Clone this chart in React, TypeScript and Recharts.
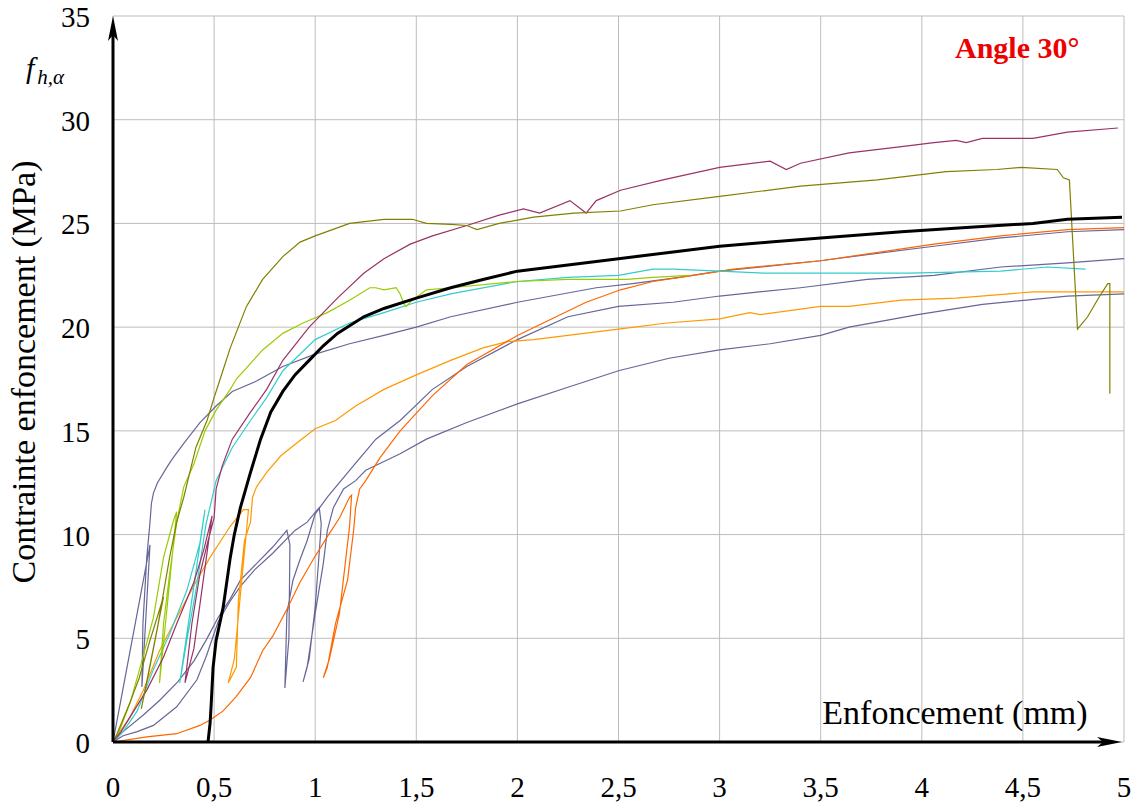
import { LineChart, Line, XAxis, YAxis, CartesianGrid, ReferenceLine } from "recharts";

type Pt = [number, number];

// x ticks (mm) and y ticks (MPa)
const xTicks = [0, 0.5, 1, 1.5, 2, 2.5, 3, 3.5, 4, 4.5, 5];
const yTicks = [0, 5, 10, 15, 20, 25, 30, 35];

// mean curve (thick black)
const meanCurve: Pt[] = [
  [0.47, 0], [0.48, 0.9], [0.485, 1.7], [0.495, 3.6], [0.51, 4.9], [0.545, 6.5], [0.58, 8.9],
  [0.6, 10.0], [0.63, 11.3], [0.68, 13.0], [0.73, 14.6], [0.78, 15.9], [0.84, 16.9], [0.9, 17.7],
  [0.97, 18.4], [1.04, 19.1], [1.11, 19.7], [1.24, 20.5], [1.34, 20.9], [1.5, 21.4], [1.67, 21.9],
  [1.83, 22.3], [2.0, 22.7], [2.25, 23.0], [2.5, 23.3], [2.75, 23.6], [3.0, 23.9], [3.25, 24.1],
  [3.5, 24.3], [3.9, 24.6], [4.22, 24.8], [4.55, 25.0], [4.72, 25.2], [4.99, 25.3],
];

const maroon: Pt[] = [
  [0, 0], [0.04, 0.5], [0.084, 1.2], [0.167, 2.5], [0.25, 4.1], [0.315, 5.7], [0.4, 7.7], [0.45, 9.3],
  [0.49, 10.9], [0.4, 4.5], [0.356, 2.85], [0.39, 5.7], [0.43, 8.1], [0.47, 9.7], [0.5, 10.8],
  [0.51, 12.2], [0.54, 13.3], [0.59, 14.6], [0.68, 15.9], [0.76, 17.0], [0.84, 18.4], [0.97, 20.0],
  [1.11, 21.4], [1.24, 22.6], [1.34, 23.3], [1.47, 24.0], [1.58, 24.4], [1.75, 24.9], [1.91, 25.4],
  [2.03, 25.7], [2.11, 25.5], [2.26, 26.1], [2.34, 25.5], [2.39, 26.1], [2.51, 26.6], [2.72, 27.1],
  [3.0, 27.7], [3.25, 28.0], [3.33, 27.6], [3.4, 27.9], [3.64, 28.4], [3.9, 28.7], [4.06, 28.9],
  [4.17, 29.0], [4.22, 28.9], [4.3, 29.1], [4.55, 29.1], [4.72, 29.4], [4.97, 29.6],
];

const olive: Pt[] = [
  [0, 0], [0.02, 0.4], [0.084, 1.9], [0.13, 3.1], [0.18, 4.8], [0.25, 7.0], [0.14, 1.6], [0.18, 3.5],
  [0.22, 5.5], [0.25, 7.2], [0.28, 8.9], [0.315, 10.6], [0.35, 11.8], [0.37, 12.6], [0.41, 14.2],
  [0.465, 15.5], [0.5, 16.6], [0.53, 17.5], [0.58, 19.0], [0.66, 21.0], [0.74, 22.3], [0.84, 23.4],
  [0.925, 24.1], [1.0, 24.4], [1.17, 25.0], [1.34, 25.2], [1.48, 25.2], [1.55, 25.0], [1.67, 24.95],
  [1.75, 24.9], [1.8, 24.7], [1.91, 25.0], [2.08, 25.3], [2.28, 25.5], [2.51, 25.6], [2.67, 25.9],
  [3.0, 26.3], [3.4, 26.8], [3.78, 27.1], [4.12, 27.5], [4.37, 27.6], [4.49, 27.7], [4.67, 27.6],
  [4.7, 27.2], [4.73, 27.1], [4.77, 19.9], [4.82, 20.5], [4.88, 21.5], [4.92, 22.1], [4.93, 22.1],
  [4.93, 16.8],
];

const lime: Pt[] = [
  [0, 0], [0.03, 0.5], [0.085, 1.9], [0.14, 3.8], [0.2, 6.0], [0.25, 8.9], [0.3, 10.7], [0.315, 11.1],
  [0.23, 2.85], [0.25, 5.7], [0.28, 8.1], [0.315, 10.6], [0.35, 12.3], [0.4, 13.4], [0.455, 15.0],
  [0.51, 16.0], [0.58, 17.0], [0.61, 17.5], [0.74, 18.9], [0.84, 19.7], [0.94, 20.2], [1.06, 20.7],
  [1.17, 21.3], [1.27, 21.9], [1.3, 21.9], [1.34, 21.8], [1.4, 21.9], [1.42, 21.6], [1.44, 21.1],
  [1.45, 21.0], [1.48, 21.3], [1.55, 21.8], [1.67, 21.9], [2.0, 22.2], [2.25, 22.3], [2.54, 22.3],
  [2.67, 22.4], [2.85, 22.5],
];

const cyan: Pt[] = [
  [0, 0], [0.05, 0.5], [0.12, 1.5], [0.2, 3.5], [0.28, 5.2], [0.365, 7.3], [0.43, 9.6], [0.455, 11.2],
  [0.33, 2.85], [0.365, 4.9], [0.41, 7.3], [0.46, 10.5], [0.51, 12.6], [0.59, 14.2], [0.68, 15.5],
  [0.76, 16.6], [0.84, 17.9], [1.0, 19.4], [1.17, 20.2], [1.34, 20.7], [1.5, 21.2], [1.67, 21.6],
  [2.0, 22.2], [2.25, 22.4], [2.5, 22.5], [2.67, 22.8], [2.77, 22.8], [3.0, 22.7], [3.23, 22.6],
  [3.5, 22.6], [3.93, 22.6], [4.39, 22.7], [4.62, 22.9], [4.81, 22.8],
];

const lightOrange: Pt[] = [
  [0, 0], [0.084, 1.2], [0.15, 2.5], [0.23, 4.4], [0.315, 6.0], [0.415, 7.8], [0.48, 8.9], [0.58, 10.4],
  [0.645, 11.2], [0.67, 11.2], [0.6, 4.0], [0.57, 2.85], [0.61, 3.6], [0.62, 6.8], [0.65, 9.7],
  [0.68, 10.6], [0.69, 11.8], [0.71, 12.3], [0.76, 13.0], [0.83, 13.8], [0.92, 14.5], [1.0, 15.1],
  [1.1, 15.5], [1.2, 16.2], [1.34, 17.0], [1.5, 17.7], [1.67, 18.4], [1.83, 19.0], [1.95, 19.3],
  [2.08, 19.4], [2.25, 19.6], [2.5, 19.9], [2.74, 20.2], [3.0, 20.4], [3.15, 20.7], [3.2, 20.6],
  [3.5, 21.0], [3.64, 21.0], [3.9, 21.3], [4.17, 21.4], [4.55, 21.7], [5.0, 21.7],
];

const darkOrange: Pt[] = [
  [0, 0], [0.167, 0.25], [0.315, 0.4], [0.43, 0.8], [0.48, 1.06], [0.545, 1.5], [0.61, 2.2], [0.68, 3.1],
  [0.74, 4.4], [0.79, 5.1], [0.86, 6.4], [0.925, 7.7], [0.99, 8.8], [1.06, 9.9], [1.12, 10.8],
  [1.17, 11.8], [1.18, 11.9], [1.17, 10.4], [1.12, 6.2], [1.07, 4.0], [1.04, 3.1], [1.06, 3.6],
  [1.1, 5.7], [1.16, 7.8], [1.19, 10.2], [1.2, 11.3], [1.22, 12.2], [1.25, 12.6], [1.32, 13.7],
  [1.42, 15.0], [1.58, 16.7], [1.75, 18.2], [2.0, 19.6], [2.34, 21.2], [2.51, 21.8], [2.67, 22.2],
  [2.87, 22.5], [3.07, 22.8], [3.5, 23.2], [4.06, 24.0], [4.39, 24.4], [4.72, 24.7], [5.0, 24.8],
];

const slateA: Pt[] = [
  [0, 0], [0.183, 9.5], [0.143, 2.65], [0.148, 5.7], [0.167, 8.9], [0.183, 10.6], [0.19, 11.5],
  [0.2, 12.0], [0.22, 12.5], [0.27, 13.3], [0.29, 13.6], [0.35, 14.4], [0.43, 15.4], [0.51, 16.2],
  [0.59, 16.9], [0.71, 17.4], [0.84, 18.1], [1.0, 18.7], [1.17, 19.2], [1.34, 19.6], [1.5, 20.0],
  [1.67, 20.5], [2.0, 21.2], [2.39, 21.9], [2.57, 22.1], [2.8, 22.4], [3.0, 22.7], [3.5, 23.2],
  [3.73, 23.5], [4.06, 23.9], [4.39, 24.3], [4.72, 24.6], [5.0, 24.7],
];

const slateB: Pt[] = [
  [0, 0], [0.05, 0.5], [0.15, 1.3], [0.23, 2.0], [0.32, 2.9], [0.4, 3.9], [0.46, 4.9], [0.52, 6.0],
  [0.58, 6.9], [0.63, 7.8], [0.71, 8.6], [0.79, 9.4], [0.86, 10.2], [0.875, 9.5], [0.87, 5.0],
  [0.85, 2.6], [0.86, 6.2], [0.89, 7.8], [0.925, 8.8], [0.96, 9.7], [1.0, 11.0], [1.06, 11.8],
  [1.17, 13.1], [1.3, 14.6], [1.42, 15.5], [1.58, 17.0], [1.75, 18.1], [2.0, 19.4], [2.25, 20.5],
  [2.5, 21.0], [2.77, 21.2], [3.0, 21.5], [3.4, 21.9], [3.73, 22.3], [4.06, 22.5], [4.39, 22.9],
  [4.72, 23.1], [5.0, 23.3],
];

const slateC: Pt[] = [
  [0, 0], [0.05, 0.3], [0.12, 0.5], [0.2, 0.8], [0.315, 1.7], [0.415, 3.0], [0.46, 4.1], [0.52, 5.8],
  [0.58, 6.8], [0.63, 7.5], [0.7, 8.3], [0.79, 9.1], [0.9, 10.2], [0.96, 10.6], [1.02, 11.3],
  [1.03, 10.5], [1.0, 6.5], [0.97, 4.0], [0.94, 2.9], [0.96, 3.6], [1.0, 6.2], [1.04, 8.6],
  [1.06, 10.2], [1.09, 11.3], [1.14, 12.2], [1.2, 12.6], [1.25, 13.1], [1.42, 13.9], [1.55, 14.6],
  [1.75, 15.4], [2.0, 16.3], [2.25, 17.1], [2.5, 17.9], [2.75, 18.5], [3.0, 18.9], [3.25, 19.2],
  [3.5, 19.6], [3.64, 20.0], [3.98, 20.6], [4.3, 21.1], [4.72, 21.5], [5.0, 21.6],
];

const series: { name: string; pts: Pt[]; color: string; width: number }[] = [
  { name: "slateC", pts: slateC, color: "#666699", width: 1.2 },
  { name: "slateB", pts: slateB, color: "#666699", width: 1.2 },
  { name: "slateA", pts: slateA, color: "#666699", width: 1.2 },
  { name: "lightOrange", pts: lightOrange, color: "#ff9900", width: 1.2 },
  { name: "darkOrange", pts: darkOrange, color: "#ff6600", width: 1.2 },
  { name: "cyan", pts: cyan, color: "#33cccc", width: 1.2 },
  { name: "lime", pts: lime, color: "#99cc00", width: 1.2 },
  { name: "maroon", pts: maroon, color: "#993366", width: 1.2 },
  { name: "olive", pts: olive, color: "#808000", width: 1.2 },
  { name: "mean", pts: meanCurve, color: "#000000", width: 3 },
];

const FONT = "'Liberation Serif', 'Times New Roman', serif";
const fmt = (v: number) => String(v).replace(".", ",");

function XTick({ x, y, payload }: any) {
  return (
    <text x={x} y={y + 55} textAnchor="middle" fontFamily={FONT} fontSize={29} fill="#000">
      {fmt(payload.value)}
    </text>
  );
}

function YTick({ x, y, payload }: any) {
  return (
    <text x={x - 23} y={y + 11} textAnchor="end" fontFamily={FONT} fontSize={29} fill="#000">
      {payload.value}
    </text>
  );
}

// axis with arrowhead
function VArrow({ x1, y1, x2, y2 }: any) {
  const top = Math.min(y1, y2);
  const bottom = Math.max(y1, y2);
  return (
    <g>
      <line x1={x1} y1={bottom} x2={x2} y2={top + 10} stroke="#000" strokeWidth={3} />
      <polygon points={`${x1},${top} ${x1 - 5},${top + 25} ${x1},${top + 19} ${x1 + 5},${top + 25}`} fill="#000" />
    </g>
  );
}

function HArrow({ x1, y1, x2, y2 }: any) {
  const left = Math.min(x1, x2);
  const tip = Math.max(x1, x2) - 2;
  return (
    <g>
      <line x1={left} y1={y1} x2={tip - 10} y2={y2} stroke="#000" strokeWidth={3} />
      <polygon points={`${tip},${y1} ${tip - 25},${y1 - 5} ${tip - 19},${y1} ${tip - 25},${y1 + 5}`} fill="#000" />
    </g>
  );
}

export default function App() {
  return (
    <div style={{ position: "absolute", left: 0, top: 0, width: 1141, height: 805, background: "#fff" }}>
      <LineChart width={1141} height={805} margin={{ top: 16, right: 17, left: 0, bottom: 0 }}>
        <CartesianGrid stroke="#bdbdbd" strokeWidth={1} />
        <XAxis
          type="number"
          dataKey="x"
          domain={[0, 5]}
          ticks={xTicks}
          height={63}
          axisLine={false}
          tickLine={false}
          tickSize={0}
          tickMargin={0}
          tick={<XTick />}
          allowDataOverflow
        />
        <YAxis
          type="number"
          dataKey="y"
          domain={[0, 35]}
          ticks={yTicks}
          width={113}
          axisLine={false}
          tickLine={false}
          tickSize={0}
          tickMargin={0}
          tick={<YTick />}
          allowDataOverflow
        />
        {series.map((s) => (
          <Line
            key={s.name}
            data={s.pts.map(([x, y]) => ({ x, y }))}
            dataKey="y"
            type="linear"
            stroke={s.color}
            strokeWidth={s.width}
            dot={false}
            activeDot={false}
            isAnimationActive={false}
          />
        ))}
        <ReferenceLine x={0} shape={<VArrow />} />
        <ReferenceLine y={0} shape={<HArrow />} />
        <text x={35} y={372} transform="rotate(-90, 35, 372)" textAnchor="middle" fontFamily={FONT} fontSize={34} fill="#000">
          Contrainte enfoncement (MPa)
        </text>
        <text x={955} y={724} textAnchor="middle" fontFamily={FONT} fontSize={34} fill="#000">
          Enfoncement (mm)
        </text>
        <text x={955} y={58} fontFamily={FONT} fontSize={30} fontWeight="bold" fill="#ee0000">
          Angle 30°
        </text>
        <text x={26} y={78} fontFamily={FONT} fontStyle="italic" fill="#000">
          <tspan fontSize={30}>f</tspan>
          <tspan fontSize={21} dx={3} dy={6}>h,α</tspan>
        </text>
      </LineChart>
    </div>
  );
}
